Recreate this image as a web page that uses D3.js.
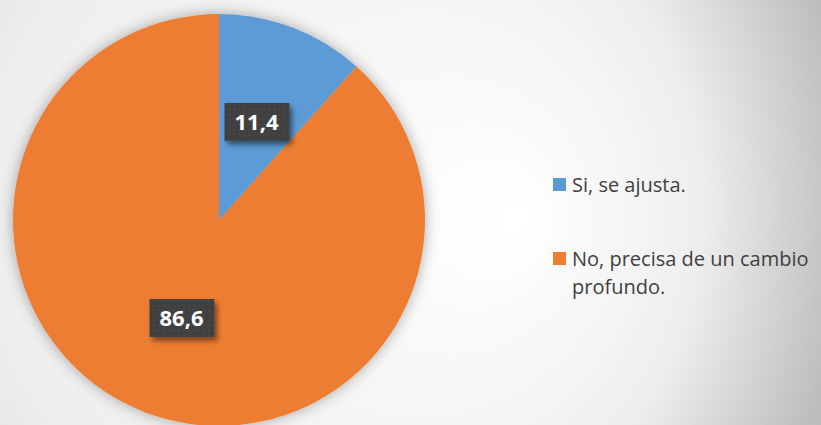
<!DOCTYPE html>
<html>
<head>
<meta charset="utf-8">
<script src="https://cdn.jsdelivr.net/npm/d3@7"></script>
<style>
  html, body { margin: 0; padding: 0; background: #fff; }
  svg { display: block; }
</style>
</head>
<body>
<div id="chart"></div>
<script>
// chart data
const categories = ["Si, se ajusta.", "No, precisa de un cambio profundo."];
const values = [11.4, 86.6];
const valueLabels = ["11,4", "86,6"];
const colors = ["#5b9bd5", "#ed7d31"];

const width = 821, height = 425;
const cx = 219, cy = 220, radius = 206;

const svg = d3.select("#chart").append("svg")
    .attr("width", width)
    .attr("height", height);

const defs = svg.append("defs");

// background gradient: white in the middle, gray towards the right
const bg = defs.append("radialGradient")
    .attr("id", "bgGrad")
    .attr("gradientUnits", "userSpaceOnUse")
    .attr("cx", 200).attr("cy", 200).attr("r", 650)
    .attr("fx", 520).attr("fy", 220);
bg.append("stop").attr("offset", 0).attr("stop-color", "#ffffff");
bg.append("stop").attr("offset", 0.55).attr("stop-color", "#eeeeee");
bg.append("stop").attr("offset", 1).attr("stop-color", "#bdbdbd");

// soft shadow around the pie
const pieShadow = defs.append("filter").attr("id", "pieShadow")
    .attr("x", "-20%").attr("y", "-20%").attr("width", "140%").attr("height", "140%");
pieShadow.append("feDropShadow")
    .attr("dx", 0).attr("dy", 0).attr("stdDeviation", 7)
    .attr("flood-color", "#000").attr("flood-opacity", 0.33);

// shadow for the label boxes
const boxShadow = defs.append("filter").attr("id", "boxShadow")
    .attr("x", "-30%").attr("y", "-30%").attr("width", "170%").attr("height", "170%");
boxShadow.append("feDropShadow")
    .attr("dx", 3).attr("dy", 4).attr("stdDeviation", 2.5)
    .attr("flood-color", "#000").attr("flood-opacity", 0.45);

// dotted pattern for label boxes
const dots = defs.append("pattern").attr("id", "dots")
    .attr("patternUnits", "userSpaceOnUse")
    .attr("width", 5).attr("height", 5);
dots.append("rect").attr("width", 5).attr("height", 5).attr("fill", "#3f3f3f");
dots.append("rect").attr("x", 2).attr("y", 2).attr("width", 1.2).attr("height", 1.2).attr("fill", "#575757");

svg.append("rect")
    .attr("width", width).attr("height", height)
    .attr("fill", "url(#bgGrad)");

const pie = d3.pie().sort(null).value(d => d);
const arcs = pie(values);

const arc = d3.arc().innerRadius(0).outerRadius(radius);
const labelArc = d3.arc().innerRadius(105).outerRadius(105);

const g = svg.append("g").attr("transform", `translate(${cx},${cy})`);

g.append("g").attr("filter", "url(#pieShadow)")
    .selectAll("path")
    .data(arcs)
    .join("path")
    .attr("d", arc)
    .attr("fill", (d, i) => colors[i]);

// data labels
const labels = g.selectAll(".lbl")
    .data(arcs)
    .join("g")
    .attr("class", "lbl")
    .attr("transform", d => `translate(${labelArc.centroid(d)})`);

labels.append("rect")
    .attr("x", -32).attr("y", -19)
    .attr("width", 65).attr("height", 38)
    .attr("fill", "url(#dots)")
    .attr("filter", "url(#boxShadow)");

labels.append("text")
    .attr("text-anchor", "middle")
    .attr("dy", "0.36em")
    .attr("fill", "#fff")
    .style("font-family", "'Open Sans', sans-serif")
    .style("font-weight", "bold")
    .style("font-size", "22px")
    .text((d, i) => valueLabels[i]);

// legend
const legendX = 553;
const legendY = [178, 252];
const legend = svg.selectAll(".legend")
    .data(categories)
    .join("g")
    .attr("class", "legend")
    .attr("transform", (d, i) => `translate(${legendX},${legendY[i]})`);

legend.append("rect")
    .attr("width", 13).attr("height", 13)
    .attr("fill", (d, i) => colors[i]);

legend.append("text")
    .attr("x", 19)
    .attr("y", 14)
    .attr("fill", "#404040")
    .style("font-family", "'Open Sans', sans-serif")
    .style("font-size", "20px")
    .each(function (d) {
        // wrap the label to the space left of the edge
        const text = d3.select(this);
        const words = d.split(" ");
        const maxW = 255;
        let line = [];
        let tspan = text.append("tspan").attr("x", 19);
        words.forEach(w => {
            line.push(w);
            tspan.text(line.join(" "));
            if (tspan.node().getComputedTextLength() > maxW && line.length > 1) {
                line.pop();
                tspan.text(line.join(" "));
                line = [w];
                tspan = text.append("tspan").attr("x", 19).attr("dy", 27.5).text(w);
            }
        });
    });
</script>
</body>
</html>
